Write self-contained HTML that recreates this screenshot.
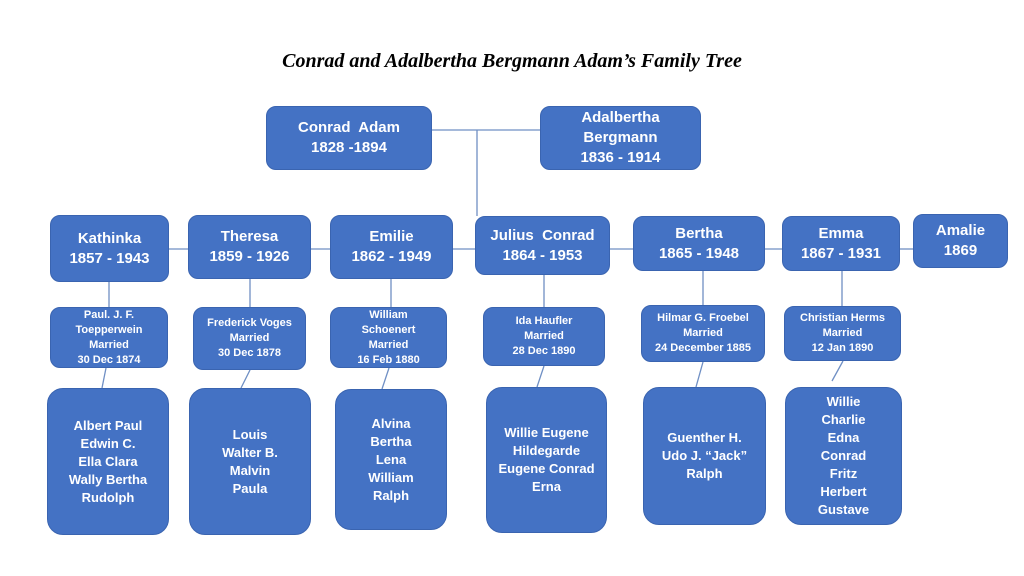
<!DOCTYPE html>
<html><head><meta charset="utf-8"><style>
body{margin:0;width:1024px;height:576px;background:#fff;position:relative;overflow:hidden;font-family:"Liberation Sans",sans-serif;}
.b{position:absolute;box-sizing:border-box;background:#4472C4;border:1.5px solid #3a64b0;border-radius:10px;color:#fff;font-weight:bold;display:flex;align-items:center;justify-content:center;text-align:center;}
.r2{font-size:15px;line-height:20px;}
.sp{font-size:11px;line-height:15px;}
.k{font-size:13px;line-height:18px;border-radius:16px;}
.t{position:absolute;left:0;width:1024px;top:50px;text-align:center;font-family:"Liberation Serif",serif;font-style:italic;font-weight:bold;font-size:20px;}
svg{position:absolute;left:0;top:0}
</style></head><body>
<div class="t">Conrad and Adalbertha Bergmann Adam’s Family Tree</div>
<svg width="1024" height="576"><g stroke="#6f8fc4" stroke-width="1.3" fill="none">
<line x1="432" y1="130" x2="540" y2="130"/><line x1="477" y1="130" x2="477" y2="216"/>
<line x1="169" y1="249" x2="188" y2="249"/><line x1="311" y1="249" x2="330" y2="249"/><line x1="453" y1="249" x2="475" y2="249"/>
<line x1="610" y1="249" x2="633" y2="249"/><line x1="765" y1="249" x2="782" y2="249"/><line x1="900" y1="249" x2="913" y2="249"/>
<line x1="109" y1="282" x2="109" y2="307"/><line x1="250" y1="279" x2="250" y2="307"/><line x1="391" y1="279" x2="391" y2="307"/>
<line x1="544" y1="275" x2="544" y2="307"/><line x1="703" y1="271" x2="703" y2="305"/><line x1="842" y1="271" x2="842" y2="306"/>
<line x1="106" y1="368" x2="102" y2="388"/><line x1="250" y1="370" x2="241" y2="388"/><line x1="389" y1="368" x2="382" y2="389"/>
<line x1="544" y1="366" x2="537" y2="387"/><line x1="703" y1="362" x2="696" y2="387"/><line x1="843" y1="361" x2="832" y2="381"/>
</g></svg>
<div class="b r2" style="left:266px;top:106px;width:166px;height:64px">Conrad&nbsp; Adam<br>1828 -1894</div>
<div class="b r2" style="left:540px;top:106px;width:161px;height:64px">Adalbertha<br>Bergmann<br>1836 - 1914</div>

<div class="b r2" style="left:50px;top:215px;width:119px;height:67px">Kathinka<br>1857 - 1943</div>
<div class="b r2" style="left:188px;top:215px;width:123px;height:64px">Theresa<br>1859 - 1926</div>
<div class="b r2" style="left:330px;top:215px;width:123px;height:64px">Emilie<br>1862 - 1949</div>
<div class="b r2" style="left:475px;top:216px;width:135px;height:59px">Julius&nbsp; Conrad<br>1864 - 1953</div>
<div class="b r2" style="left:633px;top:216px;width:132px;height:55px">Bertha<br>1865 - 1948</div>
<div class="b r2" style="left:782px;top:216px;width:118px;height:55px">Emma<br>1867 - 1931</div>
<div class="b r2" style="left:913px;top:214px;width:95px;height:54px">Amalie<br>1869</div>

<div class="b sp" style="left:50px;top:307px;width:118px;height:61px">Paul. J. F.<br>Toepperwein<br>Married<br>30 Dec 1874</div>
<div class="b sp" style="left:193px;top:307px;width:113px;height:63px">Frederick Voges<br>Married<br>30 Dec 1878</div>
<div class="b sp" style="left:330px;top:307px;width:117px;height:61px">William<br>Schoenert<br>Married<br>16 Feb 1880</div>
<div class="b sp" style="left:483px;top:307px;width:122px;height:59px">Ida Haufler<br>Married<br>28 Dec 1890</div>
<div class="b sp" style="left:641px;top:305px;width:124px;height:57px">Hilmar G. Froebel<br>Married<br>24 December 1885</div>
<div class="b sp" style="left:784px;top:306px;width:117px;height:55px">Christian Herms<br>Married<br>12 Jan 1890</div>

<div class="b k" style="left:47px;top:388px;width:122px;height:147px">Albert Paul<br>Edwin C.<br>Ella Clara<br>Wally Bertha<br>Rudolph</div>
<div class="b k" style="left:189px;top:388px;width:122px;height:147px">Louis<br>Walter B.<br>Malvin<br>Paula</div>
<div class="b k" style="left:335px;top:389px;width:112px;height:141px">Alvina<br>Bertha<br>Lena<br>William<br>Ralph</div>
<div class="b k" style="left:486px;top:387px;width:121px;height:146px">Willie Eugene<br>Hildegarde<br>Eugene Conrad<br>Erna</div>
<div class="b k" style="left:643px;top:387px;width:123px;height:138px">Guenther H.<br>Udo J. “Jack”<br>Ralph</div>
<div class="b k" style="left:785px;top:387px;width:117px;height:138px">Willie<br>Charlie<br>Edna<br>Conrad<br>Fritz<br>Herbert<br>Gustave</div>
</body></html>
